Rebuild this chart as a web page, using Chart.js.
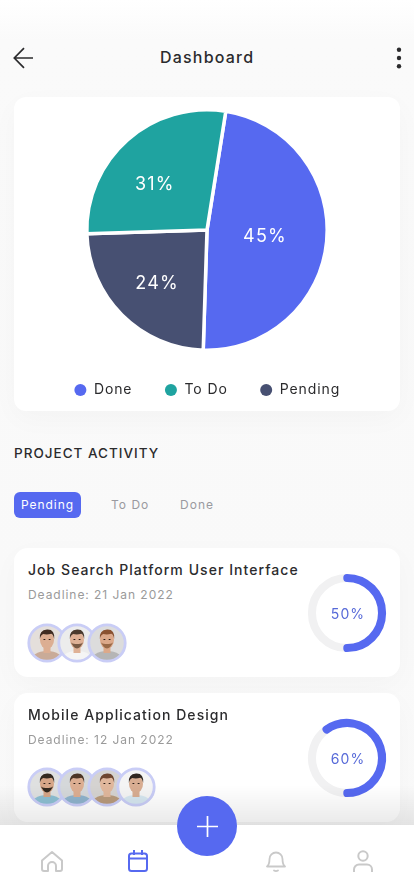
<!DOCTYPE html>
<html><head><meta charset="utf-8">
<script src="https://cdn.jsdelivr.net/npm/chart.js@4"></script>
<style>
*{box-sizing:border-box;margin:0;padding:0}
html,body{width:414px;height:896px;overflow:hidden;background:#fff}
body{position:relative;font-family:Inter,"Noto Sans",sans-serif;color:#2b2b2d;background:linear-gradient(#fff 0,#fafafa 40px,#f9f9f9 600px,#fafafa 100%)}
.t{position:absolute;white-space:nowrap;line-height:1}
.card{position:absolute;left:14px;width:386px;background:#fff;border-radius:14px;box-shadow:0 8px 28px rgba(0,0,0,.028)}
canvas{position:absolute;display:block}
.av{position:absolute;width:40px;height:40px;filter:blur(.35px)}
svg{position:absolute;overflow:visible}
</style></head><body>
<svg style="left:13px;top:47px" width="21" height="22" viewBox="0 0 21 22" fill="none" stroke="#2b2b2d" stroke-width="1.7"><path d="M20 11H1.5M11 1.2 1.3 11 11 20.8"/></svg>
<div class="t" style="left:160px;top:49px;font-size:16px;font-weight:500;letter-spacing:1.2px">Dashboard</div>
<svg style="left:396px;top:47px" width="6" height="24" fill="#2b2b2d"><circle cx="3" cy="2.8" r="2.2"/><circle cx="3" cy="11" r="2.2"/><circle cx="3" cy="19.2" r="2.2"/></svg>

<div class="card" style="top:97px;height:314px;border-radius:12px"></div>
<canvas id="pie" width="386" height="310" style="left:14px;top:97px"></canvas>

<div class="t" style="left:14px;top:447px;font-size:13.5px;font-weight:500;letter-spacing:1px">PROJECT ACTIVITY</div>
<div style="position:absolute;left:14px;top:492px;width:67px;height:26px;background:#5669f0;border-radius:6px"></div>
<div class="t" style="left:21px;top:499px;font-size:12px;font-weight:400;letter-spacing:.95px;color:#fff">Pending</div>
<div class="t" style="left:111px;top:499px;font-size:12px;letter-spacing:1.02px;color:#9a9aa0">To Do</div>
<div class="t" style="left:180px;top:499px;font-size:12px;letter-spacing:1.02px;color:#9a9aa0">Done</div>

<div class="card" style="top:548px;height:129px"></div>
<div class="t" style="left:28px;top:563px;font-size:14px;font-weight:500;letter-spacing:1.05px">Job Search Platform User Interface</div>
<div class="t" style="left:28px;top:589px;font-size:12px;letter-spacing:.95px;color:#9a9a9a">Deadline: 21 Jan 2022</div>
<div id="a1"></div>
<canvas id="r1" width="96" height="96" style="left:299px;top:565px"></canvas>
<div class="t" style="left:300px;width:96px;text-align:center;top:607px;font-size:14px;letter-spacing:1.1px;color:#5669d8">50%</div>

<div class="card" style="top:693px;height:129px"></div>
<div class="t" style="left:28px;top:708px;font-size:14px;font-weight:500;letter-spacing:1.05px">Mobile Application Design</div>
<div class="t" style="left:28px;top:734px;font-size:12px;letter-spacing:.95px;color:#9a9a9a">Deadline: 12 Jan 2022</div>
<div id="a2"></div>
<canvas id="r2" width="96" height="96" style="left:299px;top:710px"></canvas>
<div class="t" style="left:300px;width:96px;text-align:center;top:752px;font-size:14px;letter-spacing:1.1px;color:#5669d8">60%</div>

<div style="position:absolute;left:0;top:785px;width:414px;height:40px;background:linear-gradient(rgba(0,0,0,0),rgba(0,0,0,.085))"></div>
<div style="position:absolute;left:0;top:825px;width:414px;height:71px;background:#fff"></div>
<div style="position:absolute;left:177px;top:796px;width:60px;height:60px;border-radius:50%;background:#5669f0"></div>
<svg style="left:197px;top:816px" width="21" height="21" stroke="#fff" stroke-width="1.7"><path d="M0 10.5H21M10.5 0V21"/></svg>
<svg style="left:41px;top:851px" width="22" height="21" viewBox="0 0 22 21" fill="none" stroke="#c9c9c9" stroke-width="2" stroke-linejoin="round"><path d="M7 20H3a2 2 0 0 1-2-2V9.5L11 1l10 8.500V18a2 2 0 0 1-2 2h-4v-5a4 4 0 0 0-8 0z"/></svg>
<svg style="left:128px;top:850px" width="20" height="22" viewBox="0 0 20 22" fill="none" stroke="#5669f0" stroke-width="2"><rect x="1" y="3.500" width="18" height="17.500" rx="2.500"/><path d="M1 8.500H19M6 0V5M14 0V5"/></svg>
<svg style="left:266px;top:850px" width="20" height="22" viewBox="0 0 20 22" fill="none" stroke="#c9c9c9" stroke-width="1.800" stroke-linecap="round" stroke-linejoin="round"><path d="M1 16.500h18c-2-1.500-2.500-3-2.500-7.500a6.500 6.500 0 0 0-13 0c0 4.500-.5 6-2.500 7.500zM8 20.500q2 1.200 4 0"/></svg>
<svg style="left:353px;top:850px" width="20" height="22" viewBox="0 0 20 22" fill="none" stroke="#c9c9c9" stroke-width="2"><circle cx="10" cy="6" r="4.700"/><path d="M1 22v-2.500a5 5 0 0 1 5-5h8a5 5 0 0 1 5 5V22"/></svg>

<script>
// The drawn wedges in the picture do not agree with their printed percentages,
// so the wedge sizes as measured and the printed labels are kept separately.
const categories = ['Done', 'Pending', 'To Do'];
const wedgeSizes = [48, 24, 28];
const printedLabels = ['45%', '24%', '31%'];
const legendOrder = ['Done', 'To Do', 'Pending'];
const pieColors = ['#5669f0', '#475072', '#1fa3a0'];
const progressA = [50, 50];
const progressB = [40, 60];

const FONT = 'Inter';
const spacing = px => ({
  id: 'spacing',
  beforeLayout(c) { c.ctx.letterSpacing = px; },
  beforeDraw(c) { c.ctx.letterSpacing = px; }
});
const labelFraction = [0.485, 0.606, 0.58];
const labelTurn = [0, -1.7, -7];
const pieLabels = {
  id: 'pieLabels',
  afterDatasetsDraw(c) {
    const ctx = c.ctx;
    ctx.save();
    ctx.fillStyle = '#fff';
    ctx.font = '18px ' + FONT;
    ctx.textAlign = 'center';
    ctx.textBaseline = 'middle';
    ctx.letterSpacing = '1.2px';
    c.getDatasetMeta(0).data.forEach((a, i) => {
      const mid = (a.startAngle + a.endAngle) / 2 + labelTurn[i] * Math.PI / 180;
      const d = a.outerRadius * labelFraction[i];
      ctx.fillText(printedLabels[i], a.x + Math.cos(mid) * d, a.y + Math.sin(mid) * d + 1);
    });
    ctx.restore();
  }
};
const baseLabels = Chart.overrides.pie.plugins.legend.labels.generateLabels;
new Chart(document.getElementById('pie'), {
  type: 'pie',
  data: { labels: categories, datasets: [{
    data: wedgeSizes, backgroundColor: pieColors, borderColor: '#fff', borderWidth: 3.5, clip: false
  }]},
  options: {
    responsive: false, animation: false, rotation: 9, radius: 120.2,
    layout: { padding: { top: 12 } },
    plugins: {
      tooltip: { enabled: false },
      legend: { position: 'bottom', labels: {
        usePointStyle: true, boxWidth: 13, boxHeight: 8.5, padding: 32, color: '#2b2b2d',
        font: { family: FONT, size: 14 },
        generateLabels: c => baseLabels(c).map(l => ({ ...l, lineWidth: 0, pointStyle: 'circle' })),
        sort: (a, b) => legendOrder.indexOf(a.text) - legendOrder.indexOf(b.text)
      }}
    }
  },
  plugins: [spacing('.9px'), pieLabels]
});

function ring(id, values) {
  new Chart(document.getElementById(id), {
    type: 'doughnut',
    data: { datasets: [{
      data: values,
      backgroundColor: ['#f1f1f2', '#5669f0'],
      borderColor: ['#f1f1f2', '#5669f0'],
      borderWidth: 7.4, borderJoinStyle: 'round', clip: false
    }]},
    options: {
      responsive: false, animation: false, rotation: 180, radius: 35.4, cutout: '98%',
      plugins: { legend: { display: false }, tooltip: { enabled: false } }
    }
  });
}
ring('r1', progressA);
ring('r2', progressB);

// Small illustrative portraits: [backdrop, shirt, skin, hair, beard]
const peopleA = [
  ['#e4dfdb', '#c9ab98', '#dcae92', '#3f2c22', ''],
  ['#ececec', '#f5f5f5', '#dfb196', '#4a3a2e', '#7a5a44'],
  ['#dcdcdc', '#b5b5b5', '#dca98a', '#8a5230', '#9a6a48']
];
const peopleB = [
  ['#dfe0e0', '#8dbfd2', '#d6a688', '#33291f', '#33291f'],
  ['#d5d8da', '#8fb3cc', '#dcae92', '#4c3526', ''],
  ['#d5d3d1', '#b89a7c', '#e0b79c', '#6e4630', ''],
  ['#f4f4f4', '#d5e6ef', '#d8ad92', '#2f2620', '']
];
function portraits(id, list, cy) {
  const host = document.getElementById(id);
  list.forEach((p, i) => {
    const [bg, shirt, skin, hair, beard] = p;
    const cx = 47.3 + i * 29.7, k = id + i;
    host.insertAdjacentHTML('beforeend',
      `<svg class="av" style="left:${cx - 20}px;top:${cy - 20}px" viewBox="0 0 40 40">
        <clipPath id="${k}"><circle cx="20" cy="20" r="18.200"/></clipPath>
        <g clip-path="url(#${k})"><rect width="40" height="40" fill="${bg}"/>
        <ellipse cx="20" cy="39" rx="17" ry="11" fill="${shirt}"/>
        <rect x="16.500" y="22" width="7" height="8" fill="${skin}"/>
        <ellipse cx="20" cy="17" rx="7" ry="8.800" fill="${skin}"/>
        ${beard ? `<path d="M13.200 18q6.800 15 13.600 0q-1 3.500-6.800 3q-5.800.5-6.800-3z" fill="${beard}"/>` : ''}
        <path d="M12.800 16q-.8-9 7.200-9.500q8-.5 7.200 9.500q-1-4.800-3-5.300q-4 1.300-8 .3q-2.500 1-3.400 5z" fill="${hair}"/>
        <path d="M16.500 16.500h1.800M21.700 16.500h1.800" stroke="#2a1e18" stroke-width="1"/></g>
        <circle cx="20" cy="20" r="18.200" fill="none" stroke="#c9cdf6" stroke-width="2.800"/></svg>`);
  });
}
portraits('a1', peopleA, 642.5);
portraits('a2', peopleB, 787);
</script>
</body></html>
